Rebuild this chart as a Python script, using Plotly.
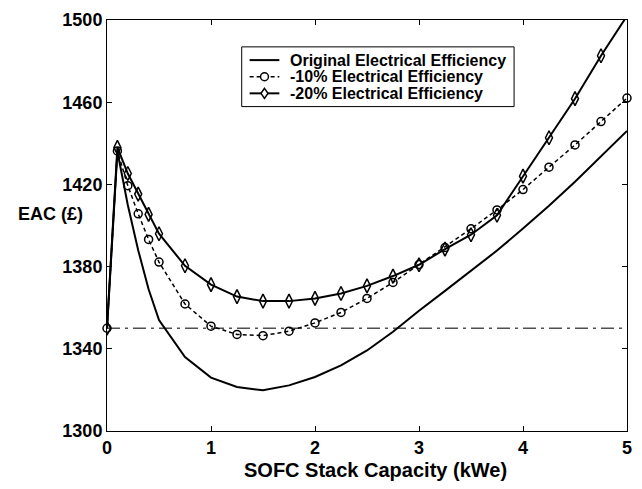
import plotly.graph_objects as go

capacity = [0, 0.1, 0.2, 0.3, 0.4, 0.5, 0.75, 1.0, 1.25, 1.5, 1.75, 2.0, 2.25,
            2.5, 2.75, 3.0, 3.25, 3.5, 3.75, 4.0, 4.25, 4.5, 4.75, 5.0]

eac_original = [1350, 1436, 1410, 1388, 1369, 1354, 1336, 1326, 1321.4, 1319.8,
                1322.2, 1326.3, 1331.9, 1339.2, 1348.3, 1358.5, 1368.2, 1378,
                1387.8, 1398.5, 1409.6, 1421.3, 1433.6, 1446]

eac_minus10 = [1350, 1436.3, 1419.4, 1405.7, 1393.2, 1382.2, 1361.8, 1351, 1347,
               1346.4, 1348.6, 1352.6, 1357.7, 1364.5, 1372.3, 1381, 1389.3,
               1398.4, 1407.6, 1417.5, 1428.4, 1439.2, 1450.6, 1462]

eac_minus20 = [1350, 1438, 1425.3, 1415.3, 1405.4, 1396, 1380.4, 1371.2, 1365.4,
               1363.2, 1363.2, 1364.5, 1366.9, 1370.6, 1375.4, 1380.9, 1388.5,
               1395.5, 1405, 1424, 1442.7, 1461.7, 1482.6, 1502]

baseline_x = [0, 5]
baseline_y = [1350, 1350]

series_names = ["Original Electrical Efficiency",
                "-10% Electrical Efficiency",
                "-20% Electrical Efficiency"]

x_ticks = [0, 1, 2, 3, 4, 5]
y_ticks = [1300, 1340, 1380, 1420, 1460, 1500]

FONT = "Liberation Sans, Arial, Helvetica, sans-serif"

W, H = 642, 489
ML, MR, MT, MB = 107, 10, 18, 58
PW, PH = W - ML - MR, H - MT - MB


def px(xp):
    return (xp - ML) / PW


def py(yp):
    return (H - MB - yp) / PH


fig = go.Figure()

fig.add_trace(go.Scatter(
    x=baseline_x, y=baseline_y, mode="lines", showlegend=False,
    line=dict(color="#505050", width=1.5, dash="13px,5px,3px,5px"),
    hoverinfo="skip"))

fig.add_trace(go.Scatter(
    x=capacity, y=eac_original, mode="lines", name=series_names[0],
    showlegend=False, line=dict(color="black", width=2)))

fig.add_trace(go.Scatter(
    x=capacity, y=eac_minus20, mode="lines+markers", name=series_names[2],
    showlegend=False,
    line=dict(color="black", width=2),
    marker=dict(symbol="diamond-tall-open", size=10, color="black",
                line=dict(width=1.5, color="black"))))

fig.add_trace(go.Scatter(
    x=capacity, y=eac_minus10, mode="lines+markers", name=series_names[1],
    showlegend=False, cliponaxis=False,
    line=dict(color="black", width=1.5, dash="4px,3px"),
    marker=dict(symbol="circle-open", size=8, color="black",
                line=dict(width=1.5, color="black"))))

# ---- legend box (drawn in paper coordinates) ----
LEG_L, LEG_R, LEG_T, LEG_B = 243, 518, 45, 105
ROWS = [58.3, 75.0, 91.7]
SAMPLE_X0, SAMPLE_X1 = 251, 281
TEXT_X = 290
sample_c = (SAMPLE_X0 + SAMPLE_X1) / 2

shapes = [dict(type="rect", xref="paper", yref="paper",
               x0=px(LEG_L), x1=px(LEG_R), y0=py(LEG_B), y1=py(LEG_T),
               line=dict(color="black", width=1), fillcolor="white",
               layer="above")]
dashes = ["solid", "4px,3px", "solid"]
widths = [2, 1.5, 2]
for row, dsh, wd in zip(ROWS, dashes, widths):
    shapes.append(dict(type="line", xref="paper", yref="paper",
                       x0=px(SAMPLE_X0), x1=px(SAMPLE_X1),
                       y0=py(row), y1=py(row),
                       line=dict(color="black", width=wd, dash=dsh)))
# circle marker sample
r = 4
shapes.append(dict(type="circle", xref="paper", yref="paper",
                   x0=px(sample_c - r), x1=px(sample_c + r),
                   y0=py(ROWS[1] + r), y1=py(ROWS[1] - r),
                   line=dict(color="black", width=1.5), fillcolor="white"))
# diamond marker sample
hw, hh = 3.5, 5
c, rw = sample_c, ROWS[2]
path = (f"M {px(c)},{py(rw - hh)} L {px(c + hw)},{py(rw)} "
        f"L {px(c)},{py(rw + hh)} L {px(c - hw)},{py(rw)} Z")
shapes.append(dict(type="path", xref="paper", yref="paper", path=path,
                   line=dict(color="black", width=1.5), fillcolor="white"))

annotations = []
for row, name in zip(ROWS, series_names):
    annotations.append(dict(
        text=name, xref="paper", yref="paper", x=px(TEXT_X), y=py(row),
        xanchor="left", yanchor="middle", showarrow=False,
        font=dict(family=FONT, size=16, color="black", weight="bold")))

annotations.append(dict(
    text="SOFC Stack Capacity (kWe)", xref="paper", yref="paper",
    x=px(378), y=py(470), xanchor="center", yanchor="middle", showarrow=False,
    font=dict(family=FONT, size=20, color="black", weight="bold")))

annotations.append(dict(
    text="EAC (£)", xref="paper", yref="paper",
    x=px(50), y=py(213), xanchor="center", yanchor="middle", showarrow=False,
    font=dict(family=FONT, size=18, color="black", weight="bold")))

fig.update_layout(
    width=W, height=H,
    margin=dict(l=ML, r=MR, t=MT, b=MB),
    paper_bgcolor="white", plot_bgcolor="white",
    font=dict(family=FONT, color="black"),
    showlegend=False,
    shapes=shapes, annotations=annotations,
)

fig.update_xaxes(
    range=[0, 5], tickvals=x_ticks, ticktext=[str(v) for v in x_ticks],
    ticks="inside", ticklen=5, tickwidth=1, tickcolor="black",
    showline=True, linecolor="black", linewidth=1, mirror="allticks",
    showgrid=False, zeroline=False,
    tickfont=dict(family=FONT, size=18, color="black", weight="bold"))

fig.update_yaxes(
    range=[1300, 1500], tickvals=y_ticks, ticktext=[str(v) for v in y_ticks],
    ticks="inside", ticklen=5, tickwidth=1, tickcolor="black",
    showline=True, linecolor="black", linewidth=1, mirror="allticks",
    showgrid=False, zeroline=False,
    tickfont=dict(family=FONT, size=18, color="black", weight="bold"))

fig.write_html("out.html")
